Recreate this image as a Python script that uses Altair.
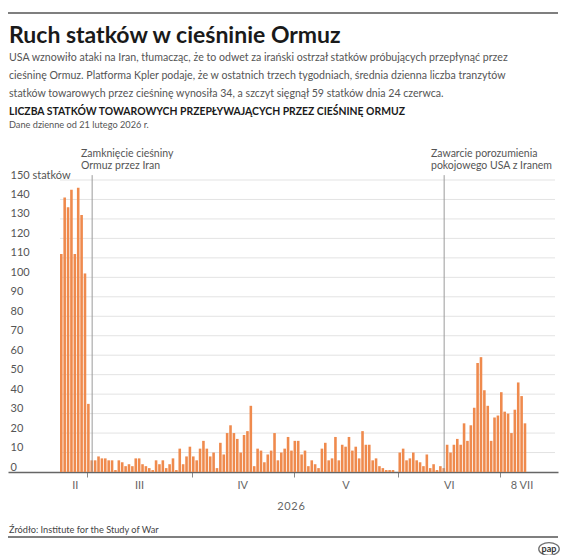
import altair as alt
import pandas as pd

FONT = "Lato"
ORANGE = "#ef8a4d"
GREY = "#555555"
DARK = "#1a1a1a"

# Daily count of cargo ships crossing the Strait of Hormuz, from 21 Feb 2026
first_day = "2026-02-21"
feb_ships = [112, 141, 136, 145, 112, 146, 132, 102]
mar_ships = [35, 6, 6, 8, 7, 7, 6, 6, 1, 6, 5, 3, 4, 3, 7, 7, 4, 3, 2, 1, 6, 4,
             6, 2, 4, 7, 1, 12, 4, 8, 13]
apr_ships = [8, 6, 12, 16, 12, 8, 10, 2, 15, 9, 20, 24, 20, 17, 10, 19, 21, 34,
             3, 12, 11, 5, 9, 11, 20, 6, 10, 12, 18, 11]
may_ships = [16, 16, 9, 11, 3, 6, 4, 2, 12, 15, 6, 7, 18, 6, 14, 13, 18, 11, 13,
             7, 21, 14, 14, 6, 7, 3, 2, 1, 1, 1, 0]
jun_ships = [10, 12, 6, 7, 10, 6, 5, 3, 9, 2, 4, 1, 3, 2, 14, 10, 14, 17, 14, 25,
             16, 24, 33, 56, 59, 42, 34, 16, 28, 29]
jul_ships = [41, 31, 30, 20, 32, 46, 39, 25]

month_labels = ["II", "III", "IV", "V", "VI", "8 VII"]
month_label_at = ["2026-02-25T12:00:00Z", "2026-03-16T12:00:00Z",
                  "2026-04-16T00:00:00Z", "2026-05-16T12:00:00Z",
                  "2026-06-16T00:00:00Z", "2026-07-07T12:00:00Z"]
month_tick_months = [3, 4, 5, 6, 7]
y_ticks = list(range(0, 151, 10))
event_dates = ["2026-03-02T12:00:00Z", "2026-06-14T12:00:00Z"]
event_top = 152.5

ships = feb_ships + mar_ships + apr_ships + may_ships + jun_ships + jul_ships
days = pd.date_range(first_day, periods=len(ships), freq="D")
bars_df = pd.DataFrame({
    "day": days.strftime("%Y-%m-%d"),
    "next": (days + pd.Timedelta(days=1)).strftime("%Y-%m-%d"),
    "ships": ships,
})
grid_df = pd.DataFrame({"v": y_ticks[1:], "start": "2026-02-21",
                        "end": "2026-07-17T06:00:00Z"})
events_df = pd.DataFrame({"when": event_dates, "top": event_top})
months_df = pd.DataFrame({"label": month_labels, "at": month_label_at})

W, H = 550, 292

x_scale = alt.Scale(
    type="utc",
    domain=[alt.DateTime(year=2026, month=2, date=5, hours=15, minutes=16, utc=True),
            alt.DateTime(year=2026, month=7, date=18, hours=3, minutes=16, utc=True)],
)
y_scale = alt.Scale(domain=[0, 150], nice=False)

x_axis = alt.Axis(
    values=[alt.DateTime(year=2026, month=m, date=1, utc=True) for m in month_tick_months],
    labels=False, ticks=True, tickSize=5, tickColor="#8a8a8a", tickWidth=1,
    domainColor="#666666", domainWidth=1.3, grid=False, title=None,
)
y_axis = alt.Axis(
    values=y_ticks, grid=False, domain=False, ticks=False, tickSize=0,
    labelAlign="left", labelPadding=-2, labelBaseline="alphabetic",
    labelOffset=-2, labelFont=FONT, labelFontSize=11, labelColor=GREY,
    labelOverlap=False,
    labelExpr="datum.value == 150 ? '150 statków' : datum.label",
    title=None,
)

grid = alt.Chart(grid_df).mark_rule(color="#e3e3e3", strokeWidth=1).encode(
    x=alt.X("start:T", scale=x_scale, axis=x_axis, title=None),
    x2="end:T",
    y=alt.Y("v:Q", scale=y_scale, axis=y_axis, title=None),
)

bars = alt.Chart(bars_df).mark_bar(color=ORANGE, x2Offset=-0.8).encode(
    x=alt.X("day:T", scale=x_scale, axis=x_axis, title=None),
    x2="next:T",
    y=alt.Y("ships:Q", scale=y_scale, axis=y_axis, title=None),
    y2=alt.datum(0),
)

events = alt.Chart(events_df).mark_rule(color="#9a9a9a", strokeWidth=1).encode(
    x=alt.X("when:T", scale=x_scale, axis=x_axis, title=None),
    y=alt.Y("top:Q", scale=y_scale, axis=y_axis, title=None),
    y2=alt.datum(0),
)

months = alt.Chart(months_df).mark_text(
    font=FONT, fontSize=11, color="#666666", baseline="alphabetic"
).encode(
    x=alt.X("at:T", scale=x_scale, axis=x_axis, title=None),
    y=alt.value(H + 17),
    text="label:N",
)


def text_line(s, x, y, size, color=GREY, weight="normal", align="left"):
    return alt.Chart(pd.DataFrame({"s": [s]})).mark_text(
        font=FONT, fontSize=size, fontWeight=weight, color=color,
        align=align, baseline="alphabetic",
    ).encode(text="s:N", x=alt.value(x), y=alt.value(y))


def hline(y, color, width):
    return alt.Chart(pd.DataFrame({"k": [0]})).mark_rule(
        color=color, strokeWidth=width
    ).encode(x=alt.value(0), x2=alt.value(W), y=alt.value(y))


header = [
    hline(-167, "#555555", 1.6),
    text_line("Ruch statków w cieśninie Ormuz", 1, -137, 23, DARK, "bold"),
    text_line("USA wznowiło ataki na Iran, tłumacząc, że to odwet za irański ostrzał "
              "statków próbujących przepłynąć przez", 1, -119, 10.6),
    text_line("cieśninę Ormuz. Platforma Kpler podaje, że w ostatnich trzech tygodniach, "
              "średnia dzienna liczba tranzytów", 1, -101, 10.6),
    text_line("statków towarowych przez cieśninę wynosiła 34, a szczyt sięgnął "
              "59 statków dnia 24 czerwca.", 1, -83, 10.6),
    text_line("LICZBA STATKÓW TOWAROWYCH PRZEPŁYWAJĄCYCH PRZEZ CIEŚNINĘ ORMUZ",
              1, -65.5, 10.4, DARK, "bold"),
    text_line("Dane dzienne od  21 lutego 2026 r.", 1, -52.5, 9.2),
    text_line("Zamknięcie cieśniny", 73, -23.5, 10.5),
    text_line("Ormuz przez Iran", 73, -11.5, 10.5),
    text_line("Zawarcie porozumienia", 423, -23.5, 10.5),
    text_line("pokojowego USA z Iranem", 423, -11.5, 10.5),
]

footer = [
    text_line("2\u200a0\u200a2\u200a6", 283, H + 38, 11, "#666666", align="center"),
    text_line("Źródło: Institute for the Study of War", 1, H + 61, 9.2, "#444444"),
    hline(H + 65, "#555555", 1.6),
]

logo_path = "M-1,0A1,0.62,0,1,1,1,0A1,0.62,0,1,1,-1,0Z"
logo_ring = alt.Chart(pd.DataFrame({"k": [0]})).mark_point(
    shape=logo_path, size=420, filled=False, stroke="#333333", strokeWidth=1.3
).encode(x=alt.value(541), y=alt.value(H + 77))
logo_text = alt.Chart(pd.DataFrame({"s": ["pap"]})).mark_text(
    font=FONT, fontSize=9, fontWeight="bold", color="#333333", baseline="middle"
).encode(text="s:N", x=alt.value(541), y=alt.value(H + 76.5))

chart = alt.layer(
    grid, bars, events, months, *header, *footer, logo_ring, logo_text
).properties(
    width=W, height=H,
    padding={"left": 8, "top": 180, "right": 6, "bottom": 83},
    autosize=alt.AutoSizeParams(type="none"),
    background="white",
).configure_view(stroke=None)

chart.save("out.html", embed_options={"renderer": "svg", "actions": False})
